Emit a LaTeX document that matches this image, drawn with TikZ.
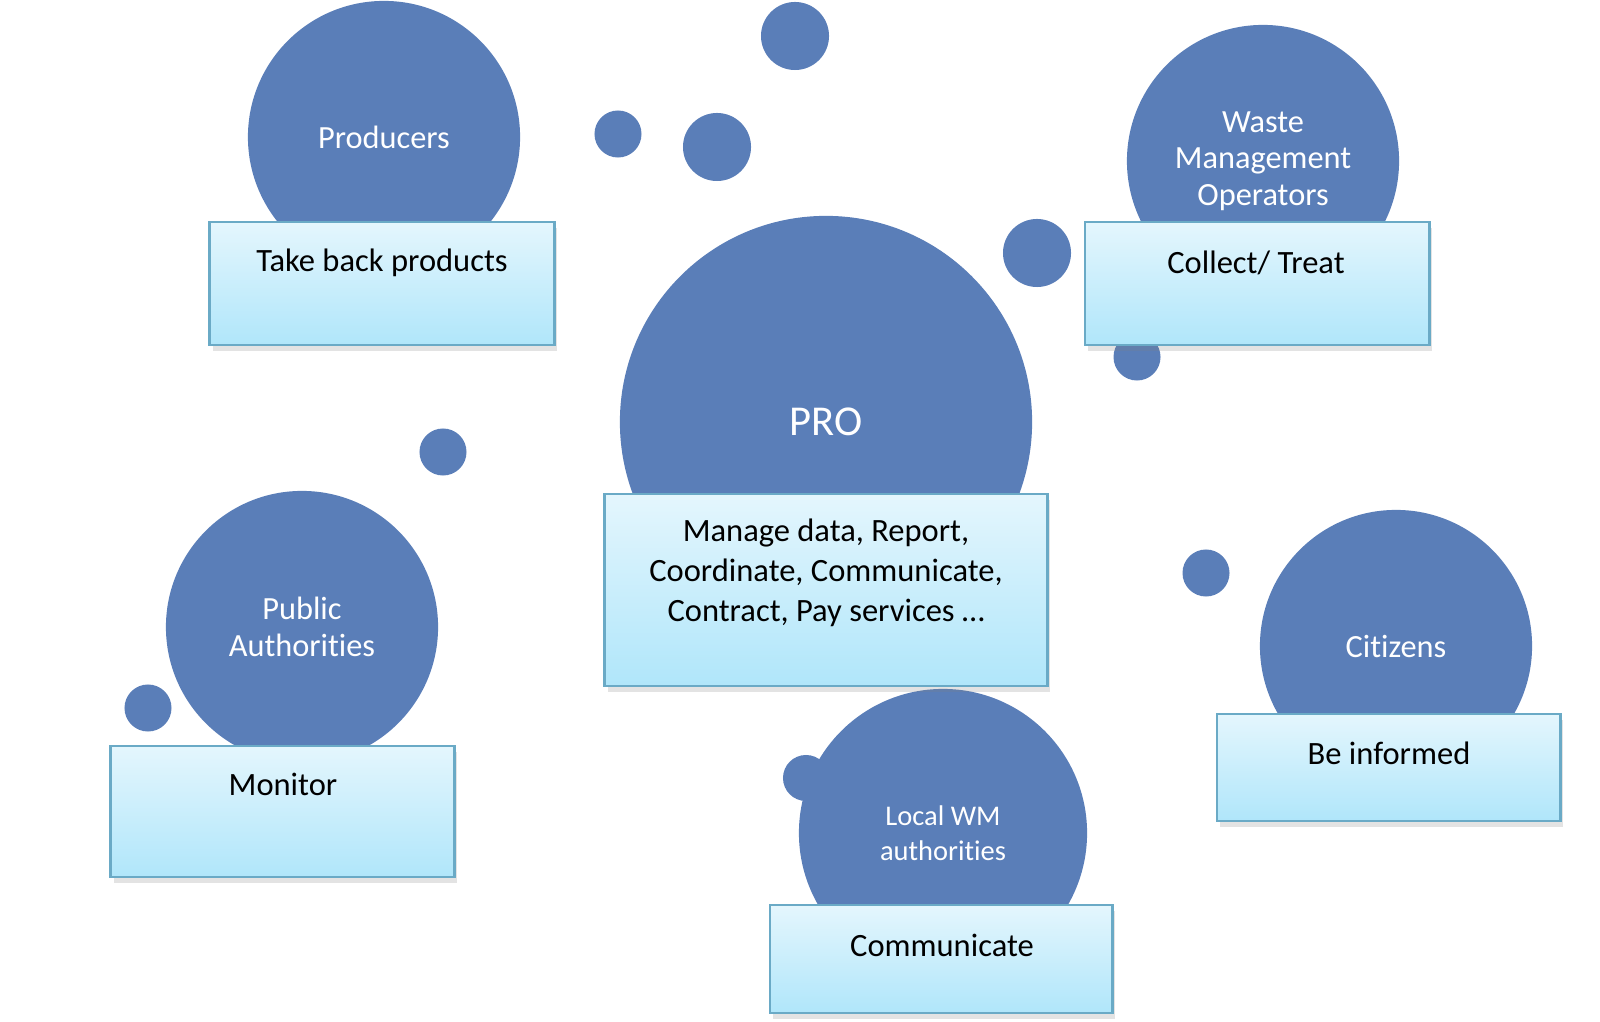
\documentclass[tikz,border=0pt]{standalone}
\usepackage{fontspec}
\setmainfont[Ligatures=NoCommon]{Carlito}
\usepackage{xcolor}
\usepackage{tikz}
\usetikzlibrary{shapes.geometric, shadows}
\definecolor{bubbleblue}{HTML}{5A7EB8}
\definecolor{boxtop}{HTML}{E4F6FD}
\definecolor{boxbottom}{HTML}{B0E6FA}
\definecolor{boxline}{HTML}{6AAAC6}

\begin{document}
\begin{tikzpicture}[x=0.01cm, y=-0.01cm]
    \tikzstyle{bubble} = [circle, fill=bubbleblue, inner sep=0pt, text=white, align=center, font=\fontsize{9.2}{10.4}\selectfont]
    \tikzstyle{smalldot} = [circle, fill=bubbleblue, inner sep=0pt]
    \tikzstyle{taskbox} = [rectangle, draw=boxline, line width=0.8pt, top color=boxtop, bottom color=boxbottom, drop shadow={shadow xshift=0.03cm, shadow yshift=-0.06cm, opacity=0.22}]
    \tikzstyle{tasktext} = [align=center, inner sep=0pt, font=\fontsize{9.25}{11.3}\selectfont]

    \useasboundingbox (0,0) rectangle (1600,1022);

    \node (dot1) [smalldot, minimum size=0.68cm] at (795,36) {};
    \node (dot2) [smalldot, minimum size=0.47cm] at (618,134) {};
    \node (dot3) [smalldot, minimum size=0.68cm] at (717,147) {};
    \node (dot4) [smalldot, minimum size=0.68cm] at (1037,253) {};
    \node (dot5) [smalldot, minimum size=0.47cm] at (1137,357) {};
    \node (dot6) [smalldot, minimum size=0.47cm] at (443,452) {};
    \node (dot7) [smalldot, minimum size=0.47cm] at (148,708) {};
    \node (dot8) [smalldot, minimum size=0.47cm] at (1206,573) {};
    \node (dot9) [smalldot, minimum size=0.46cm] at (806,778) {};

    \node (producers) [bubble, minimum size=2.72cm] at (384,137) {Producers};
    \node (operators) [bubble, minimum size=2.72cm] at (1263,161) {Waste\\Management\\Operators};
    \node (pro) [bubble, minimum size=4.12cm, font=\fontsize{12.1}{14}\selectfont] at (826,422) {PRO};
    \node (public) [bubble, minimum size=2.72cm] at (302,627) {Public\\Authorities};
    \node (citizens) [bubble, minimum size=2.72cm] at (1396,646) {Citizens};
    \node (localwm) [bubble, minimum size=2.88cm, font=\fontsize{8.1}{10.1}\selectfont] at (943,833) {Local WM\\authorities};

    \node (takeback) [taskbox, minimum width=3.44cm, minimum height=1.23cm] at (382,283.5) {};
    \node (collect) [taskbox, minimum width=3.44cm, minimum height=1.23cm] at (1257,283.5) {};
    \node (manage) [taskbox, minimum width=4.42cm, minimum height=1.92cm] at (826,590) {};
    \node (monitor) [taskbox, minimum width=3.43cm, minimum height=1.31cm] at (282.5,811.5) {};
    \node (inform) [taskbox, minimum width=3.43cm, minimum height=1.07cm] at (1388.5,767.5) {};
    \node (communicate) [taskbox, minimum width=3.42cm, minimum height=1.08cm] at (941,959) {};

    \node (takebacktext) [tasktext] at (382,263) {Take back products};
    \node (collecttext) [tasktext] at (1256,263) {Collect/ Treat};
    \node (managetext) [tasktext] at (826,573) {Manage data, Report,\\Coordinate, Communicate,\\Contract, Pay services \dots};
    \node (monitortext) [tasktext] at (283,784) {Monitor};
    \node (informtext) [tasktext] at (1389,753) {Be informed};
    \node (communicatetext) [tasktext] at (942,945) {Communicate};
\end{tikzpicture}
\end{document}
